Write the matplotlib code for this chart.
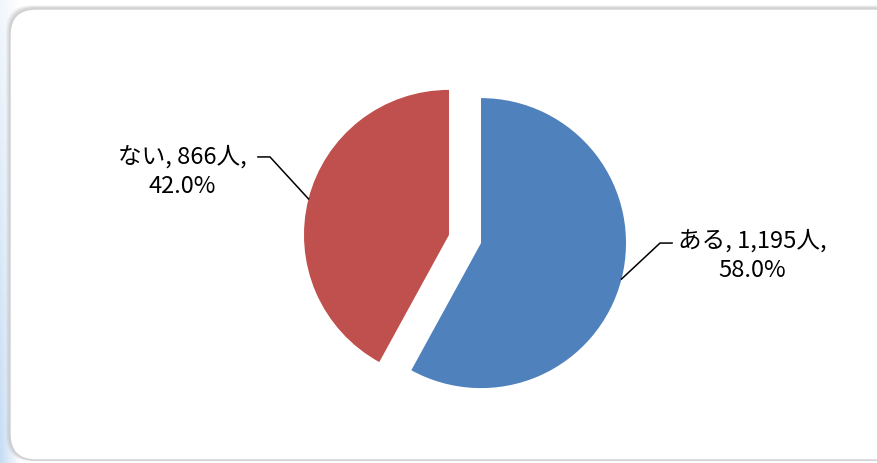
import numpy as np
import matplotlib.pyplot as plt
from matplotlib.patches import FancyBboxPatch

plt.rcParams['font.family'] = ['Noto Sans CJK JP', 'DejaVu Sans']

labels = ['ある', 'ない']
counts = [1195, 866]
percents = [58.0, 42.0]
colors = ['#4F81BD', '#C0504D']

W, H = 877, 463
fig = plt.figure(figsize=(W / 100, H / 100), dpi=100)
fig.patch.set_facecolor('white')

# background: light blue strip on the left, fading upward
bg = fig.add_axes([0, 0, 1, 1])
bg.set_xlim(0, W)
bg.set_ylim(0, H)
bg.axis('off')
xx, yy = np.meshgrid(np.linspace(0, 1, 60), np.linspace(0, 1, 60))
alpha = np.clip(1 - xx * 6, 0, 1) * (0.25 + 0.75 * yy)
img = np.zeros((60, 60, 4))
img[..., 0] = 0.78
img[..., 1] = 0.87
img[..., 2] = 0.96
img[..., 3] = alpha
bg.imshow(img, extent=(0, 120, 0, H), origin='upper', aspect='auto', zorder=0)

# chart area box with soft shadow
for i, a in enumerate([0.10, 0.14, 0.20]):
    off = 4 - i * 1.3
    bg.add_patch(FancyBboxPatch((10 - off, 3 - off * 0.3), 900, 452 + off,
                                boxstyle='round,pad=0,rounding_size=26',
                                facecolor='#9a9a9a', edgecolor='none', alpha=a, zorder=1))
bg.add_patch(FancyBboxPatch((10, 3), 900, 451,
                            boxstyle='round,pad=0,rounding_size=26',
                            facecolor='white', edgecolor='#d0d0d0', lw=1.0, zorder=2))

# pie: center at (465, 239) px, radius 145 px
cx, cy, r = 465, 239, 145
ax = fig.add_axes([0, 0, 1, 1])
ax.patch.set_alpha(0)
explode = 0.114
wedges, _ = ax.pie(counts, colors=colors, startangle=90, counterclock=False,
                   explode=[explode, explode], wedgeprops=dict(linewidth=0))
ax.set_aspect('auto')
ax.set_xlim(-cx / r, (W - cx) / r)
ax.set_ylim(-(H - cy) / r, cy / r)
ax.axis('off')

# label positions (data units): text center, leader elbow, leader end
label_pos = [(1.98, -0.115), (-1.95, 0.465)]
elbow = [(1.345, -0.028), (-1.345, 0.566)]
lend = [(1.428, -0.028), (-1.428, 0.566)]

for w, lab, n, p, tp, el, le in zip(wedges, labels, counts, percents, label_pos, elbow, lend):
    mid = np.deg2rad((w.theta1 + w.theta2) / 2)
    c0 = w.center
    ax_pt = (c0[0] + np.cos(mid), c0[1] + np.sin(mid))
    ax.plot([ax_pt[0], el[0], le[0]], [ax_pt[1], el[1], le[1]], color='black', lw=1.1)
    ax.text(tp[0], tp[1], f'{lab}, {n:,}人,\n{p:.1f}%', ha='center', va='center',
            fontsize=17, linespacing=1.32, color='black')

fig.savefig('out.png', dpi=100)
